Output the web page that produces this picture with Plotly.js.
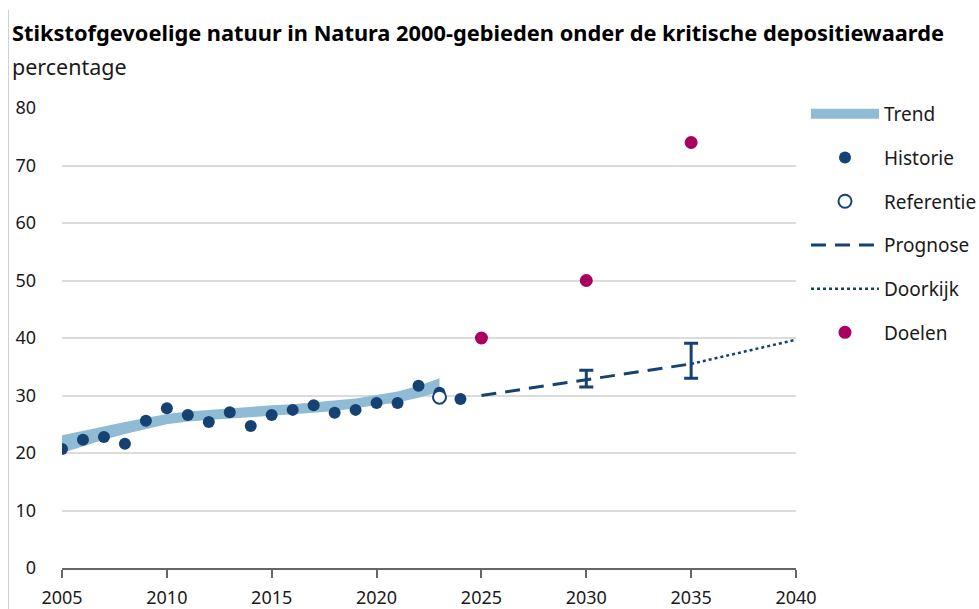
<!DOCTYPE html>
<html>
<head>
<meta charset="utf-8">
<script src="https://cdn.plot.ly/plotly-3.0.1.min.js"></script>
<style>
html,body{margin:0;padding:0;background:#fff;}
#wrap{position:relative;width:979px;height:609px;}
#edge{position:absolute;left:8px;top:10px;width:1px;height:599px;background:#d0d0d0;}
#chart{position:absolute;left:0;top:0;width:979px;height:609px;}
</style>
</head>
<body>
<div id="wrap"><div id="chart"></div><div id="edge"></div></div>
<script>
// ---- data ----
const years = [2005,2006,2007,2008,2009,2010,2011,2012,2013,2014,2015,2016,2017,2018,2019,2020,2021,2022,2023];
const trendUpper = [23.1,23.9,24.7,25.4,26.1,26.8,27.2,27.5,27.8,28.0,28.3,28.5,28.8,29.1,29.5,30.1,30.7,31.7,33.0];
const trendLower = [20.0,21.2,22.3,23.3,24.2,25.0,25.5,25.8,26.0,26.2,26.4,26.7,27.0,27.3,27.7,28.3,28.8,29.6,30.6];

const historieYears = [2005,2006,2007,2008,2009,2010,2011,2012,2013,2014,2015,2016,2017,2018,2019,2020,2021,2022,2023,2024];
const historieValues = [20.7,22.3,22.8,21.6,25.6,27.8,26.6,25.4,27.1,24.7,26.6,27.5,28.3,27.0,27.5,28.7,28.7,31.7,30.5,29.4];

const referentieYears = [2023];
const referentieValues = [29.7];

const prognoseYears = [2025,2030,2035];
const prognoseValues = [30.0,32.7,35.5];

const bandYears = [2030,2035];
const bandLow = [31.5,33.0];
const bandHigh = [34.4,39.1];

const doorkijkYears = [2035,2040];
const doorkijkValues = [35.5,39.7];

const doelenYears = [2025,2030,2035];
const doelenValues = [40,50,74];

const xTicks = [2005,2010,2015,2020,2025,2030,2035,2040];
const yTicks = [0,10,20,30,40,50,60,70,80];

// ---- colours ----
const darkBlue = '#154273';
const lightBlue = '#8fbcd4';
const magenta = '#a90061';
const FONT = 'Noto Sans, sans-serif';

const traces = [
  {
    name: 'Trend', x: years.concat(years.slice().reverse()),
    y: trendUpper.concat(trendLower.slice().reverse()),
    type: 'scatter', mode: 'lines', fill: 'toself', fillcolor: lightBlue,
    line: {width: 0, color: lightBlue}, hoverinfo: 'skip', showlegend: false
  },
  {
    name: 'Trend', x: [null], y: [null], type: 'scatter', mode: 'lines',
    line: {width: 14, color: lightBlue}, legendgroup: 'a'
  },
  {
    name: 'Historie', x: historieYears, y: historieValues, type: 'scatter', mode: 'markers',
    marker: {size: 12, color: darkBlue}, legendgroup: 'b'
  },
  {
    name: 'Referentie', x: referentieYears, y: referentieValues, type: 'scatter', mode: 'markers',
    marker: {size: 13, color: '#ffffff', line: {color: darkBlue, width: 2}}, legendgroup: 'c'
  },
  {
    name: 'Prognose', x: prognoseYears, y: prognoseValues, type: 'scatter', mode: 'lines',
    line: {color: darkBlue, width: 3, dash: '15px,9px'}, legendgroup: 'd'
  },
  {
    name: 'Bandbreedte', x: bandYears, y: bandLow, type: 'scatter', mode: 'lines',
    line: {width: 0, color: darkBlue}, showlegend: false,
    error_y: {type: 'data', symmetric: false,
      array: bandHigh.map((h, i) => h - bandLow[i]), arrayminus: bandLow.map(() => 0),
      color: darkBlue, thickness: 3, width: 7}
  },
  {
    name: 'Doorkijk', x: doorkijkYears, y: doorkijkValues, type: 'scatter', mode: 'lines',
    line: {color: darkBlue, width: 2.5, dash: 'dot'}, legendgroup: 'e'
  },
  {
    name: 'Doelen', x: doelenYears, y: doelenValues, type: 'scatter', mode: 'markers',
    marker: {size: 13, color: magenta}, legendgroup: 'f'
  }
];

const layout = {
  width: 979, height: 609,
  margin: {l: 62, r: 183, t: 108, b: 41, pad: 0},
  paper_bgcolor: '#ffffff', plot_bgcolor: '#ffffff',
  font: {family: FONT, size: 18, color: '#1a1a1a'},
  showlegend: true,
  title: {
    text: '<b>Stikstofgevoelige natuur in Natura 2000-gebieden onder de kritische depositiewaarde</b>',
    xref: 'container', yref: 'container', x: 12/979, xanchor: 'left', y: 1 - 33/609, yanchor: 'middle',
    font: {family: FONT, size: 21.8, color: '#000000'}
  },
  annotations: [{
    text: 'percentage', xref: 'paper', yref: 'paper', showarrow: false,
    x: -52/734, xanchor: 'left', y: 1 + 41/460, yanchor: 'middle',
    font: {family: FONT, size: 21.5, color: '#1a1a1a'}
  }],
  xaxis: {
    range: [2005, 2040], tickvals: xTicks, ticktext: xTicks.map(String),
    showgrid: false, zeroline: false, showline: true, linecolor: '#666666', linewidth: 2,
    ticks: 'outside', ticklen: 8, tickwidth: 2, tickcolor: '#666666', ticklabelstandoff: 4,
    tickfont: {family: FONT, size: 18, color: '#1a1a1a'}, fixedrange: true
  },
  yaxis: {
    range: [0, 80], tickvals: yTicks, ticktext: yTicks.map(String),
    showgrid: true, gridcolor: '#dcdcdc', gridwidth: 2, zeroline: false, showline: false,
    ticks: '', ticklabelstandoff: 25,
    tickfont: {family: FONT, size: 18, color: '#1a1a1a'}, fixedrange: true
  },
  legend: {
    x: 806/979, xref: 'container', xanchor: 'left', y: 1 - 95/609, yref: 'container', yanchor: 'top',
    traceorder: 'grouped', tracegroupgap: 16, itemwidth: 68,
    font: {family: FONT, size: 19, color: '#1a1a1a'}, bgcolor: 'rgba(0,0,0,0)'
  }
};

Plotly.newPlot('chart', traces, layout, {displayModeBar: false, staticPlot: true});
</script>
</body>
</html>
